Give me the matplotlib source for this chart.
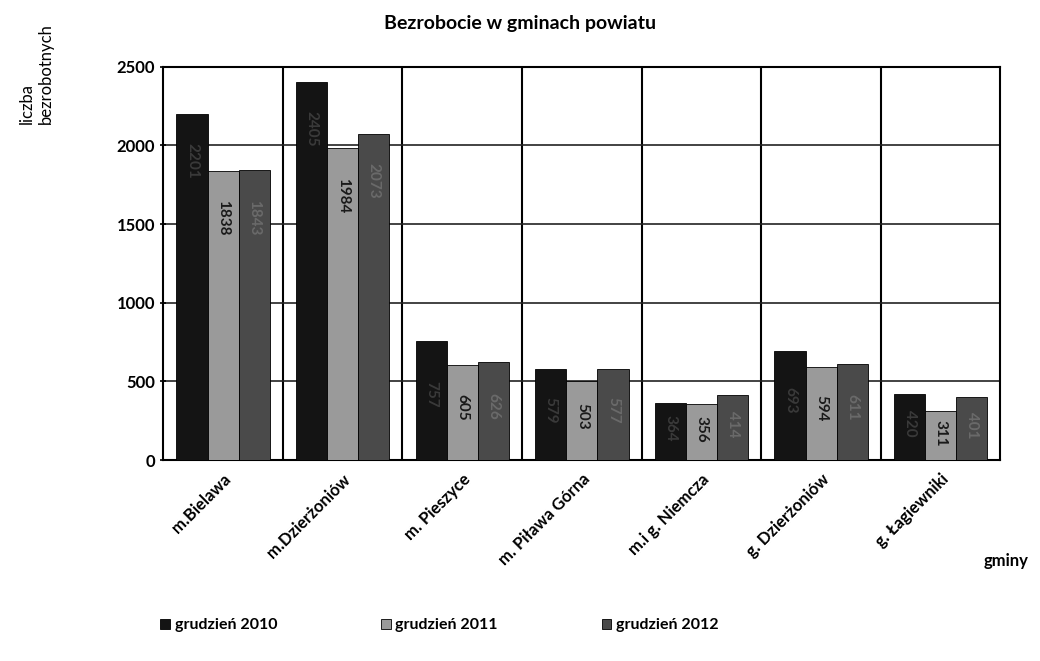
import numpy as np
import matplotlib.pyplot as plt

# data
gminy = ["m.Bielawa", "m.Dzierżoniów", "m. Pieszyce", "m. Piława Górna",
         "m.i g. Niemcza", "g. Dzierżoniów", "g. Łagiewniki"]
gru_2010 = [2201, 2405, 757, 579, 364, 693, 420]
gru_2011 = [1838, 1984, 605, 503, 356, 594, 311]
gru_2012 = [1843, 2073, 626, 577, 414, 611, 401]
series_names = ["grudzień 2010", "grudzień 2011", "grudzień 2012"]
y_ticks = [0, 500, 1000, 1500, 2000, 2500]

plt.rcParams['font.family'] = ['Lato', 'DejaVu Sans']
plt.rcParams['font.weight'] = 'bold'

fig = plt.figure(figsize=(10.4, 6.61), dpi=100)
ax = fig.add_axes([0.157, 0.304, 0.805, 0.595])

x = np.arange(len(gminy))
w = 0.26
colors = ["#141414", "#9a9a9a", "#4a4a4a"]
text_colors = ["#3a3a3a", "#1a1a1a", "#6a6a6a"]
series = [gru_2010, gru_2011, gru_2012]

for i, (vals, c, tc) in enumerate(zip(series, colors, text_colors)):
    pos = x + (i - 1) * w
    ax.bar(pos, vals, width=w, color=c, edgecolor="#000000", linewidth=0.6,
           label=series_names[i], zorder=3)
    for p, v in zip(pos, vals):
        ypos = v - 300 if v > 1000 else v * 0.55
        ax.text(p, ypos, str(v), rotation=270, ha="center", va="center",
                fontsize=11, color=tc, fontweight="bold", zorder=4)

ax.set_xlim(-0.5, len(gminy) - 0.5)
ax.set_ylim(0, 2500)
ax.set_yticks(y_ticks)
ax.set_yticklabels([str(t) for t in y_ticks], fontsize=12, fontweight="bold")
ax.yaxis.grid(True, color="#222222", linewidth=1.2, zorder=0)
for b in np.arange(0.5, len(gminy) - 0.5, 1):
    ax.axvline(b, color="#000000", linewidth=1.5, zorder=1)

ax.set_xticks(x)
ax.set_xticklabels(gminy, rotation=45, ha="right", rotation_mode="anchor",
                   fontsize=12, fontweight="bold")
ax.tick_params(axis="x", length=0, pad=8)
ax.tick_params(axis="y", length=5, direction="inout", width=1.2)
for s in ax.spines.values():
    s.set_linewidth(1.5)
    s.set_color("#000000")

fig.text(0.5, 0.965, "Bezrobocie w gminach powiatu", ha="center",
         va="center", fontsize=14, fontweight="bold")
fig.text(0.035, 0.965, "liczba\nbezrobotnych", rotation=90, ha="center",
         va="top", fontsize=12, fontweight="normal", multialignment="left")
fig.text(0.967, 0.152, "gminy", ha="center", va="center", fontsize=12,
         fontweight="bold")

ax.legend(loc="center", bbox_to_anchor=(0.33, -0.42), ncol=3, frameon=False,
          fontsize=11.5, handlelength=0.6, handleheight=0.6, handletextpad=0.3,
          columnspacing=6.5)

fig.savefig("out.png", dpi=100)
